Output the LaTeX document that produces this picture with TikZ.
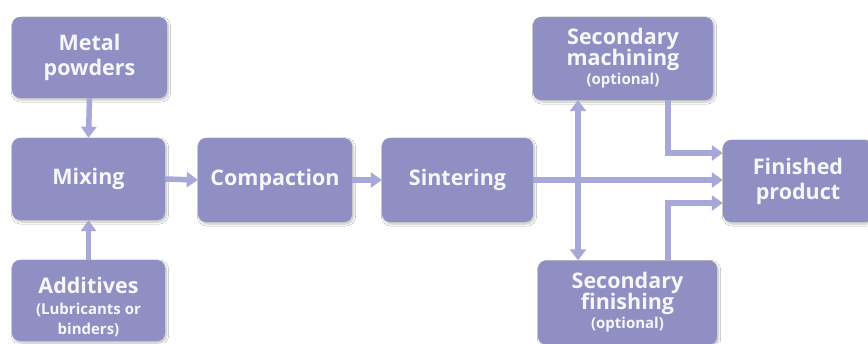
\documentclass[tikz,border=0pt]{standalone}
\usepackage{fontspec}
\setmainfont{Open Sans}
\usetikzlibrary{arrows.meta,shadows.blur}
\definecolor{boxfill}{HTML}{8F8FC4}
\definecolor{arrowcol}{HTML}{A7A7D8}
\definecolor{txtcol}{HTML}{F6F6FB}
\tikzset{
  stepbox/.style={fill=boxfill, rounded corners=8pt, inner sep=0pt, align=center,
    text=txtcol, font=\fontsize{21.5}{25}\selectfont\bfseries,
    blur shadow={shadow xshift=1.5pt, shadow yshift=-2pt, shadow blur steps=6, shadow opacity=25}},
  boxtext/.style={inner sep=0pt, align=center, text=txtcol, font=\fontsize{21.5}{25}\selectfont\bfseries},
  flow/.style={draw=arrowcol, line width=5.5pt, -{Triangle[width=15pt,length=11pt]}},
  flowboth/.style={draw=arrowcol, line width=5.5pt, {Triangle[width=16pt,length=11pt]}-{Triangle[width=16pt,length=11pt]}}
}
\newcommand{\sm}[1]{{\fontsize{15}{17}\selectfont #1}}
\begin{document}
\begin{tikzpicture}[x=1pt,y=-1pt]
\clip (0,0) rectangle (868,343);
\fill[white] (0,0) rectangle (868,343);
\node[stepbox, minimum width=155pt, minimum height=81pt] (mp) at (89.5,57.5) {Metal\\powders};
\node[stepbox, minimum width=153pt, minimum height=82pt] (mix) at (88.5,179) {Mixing};
\node[stepbox, minimum width=153pt, minimum height=81pt] (add) at (88.5,300.5) {};
\node[boxtext] (addtxt) at (88.5,307.5) {Additives\\[-4pt]\sm{(Lubricants or}\\[-5pt]\sm{binders)}};
\node[stepbox, minimum width=154pt, minimum height=84pt] (comp) at (275,180) {Compaction};
\node[stepbox, minimum width=151pt, minimum height=84pt] (sint) at (457.5,180) {Sintering};
\node[stepbox, minimum width=180pt, minimum height=83pt] (mach) at (623,58.5) {Secondary\\[-4pt]machining\\[-6pt]\sm{(optional)}};
\node[stepbox, minimum width=179pt, minimum height=84pt] (fini) at (627.5,302.5) {Secondary\\[-4pt]finishing\\[-6pt]\sm{(optional)}};
\node[stepbox, minimum width=150pt, minimum height=82pt] (fin) at (798,181) {Finished\\product};

\draw[flow] (mp.south) -- (mix.north);
\draw[flow] (add.north) -- (mix.south);
\draw[flow] (mix.east) -- (comp.west);
\draw[flow] (comp.east) -- (sint.west);
\draw[flow] (sint.east) -- (sint.east -| fin.west);
\draw[flowboth] (mach.south -| 578,0) -- (fini.north -| 578,0);
\coordinate (m1) at (668,153);
\coordinate (f1) at (668,203);
\draw[flow] (mach.south -| m1) -- (m1) -- (m1 -| fin.west);
\draw[flow] (fini.north -| f1) -- (f1) -- (f1 -| fin.west);
\end{tikzpicture}
\end{document}
